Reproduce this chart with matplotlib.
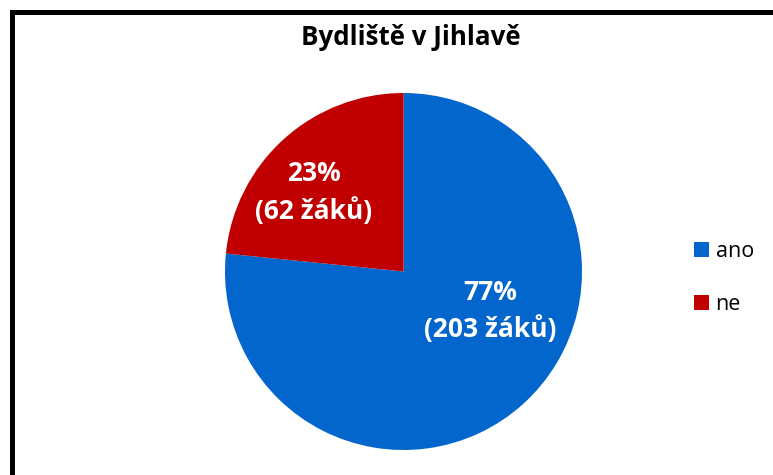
import matplotlib
matplotlib.use("Agg")
import matplotlib.pyplot as plt
from matplotlib.patches import Rectangle, Patch

title = "Bydliště v Jihlavě"
categories = ["ano", "ne"]
counts = [203, 62]
colors = ["#0366CC", "#C00000"]

plt.rcParams['font.family'] = ['Open Sans', 'DejaVu Sans']

W, H = 773, 475
fig = plt.figure(figsize=(W / 100, H / 100), dpi=100)
fig.patch.set_facecolor("white")

# outer border (left and top visible)
fig.patches.append(Rectangle((11.5 / W, -0.2), 1.5, (H - 11.5) / H + 0.2,
                             transform=fig.transFigure, fill=False,
                             edgecolor="black", linewidth=3.6))

cx, cy, r = 403.5, 271.5, 178.5
ax = fig.add_axes([(cx - r) / W, (H - cy - r) / H, 2 * r / W, 2 * r / H])
wedges, _ = ax.pie(counts, colors=colors, startangle=90, counterclock=False,
                   radius=1, wedgeprops=dict(linewidth=0))
ax.set_xlim(-1, 1)
ax.set_ylim(-1, 1)
ax.set_aspect("equal")
ax.axis("off")

total = sum(counts)
label_pos = [(0.487, -0.222), (-0.504, 0.444)]
for c, (x, y) in zip(counts, label_pos):
    pct = round(100 * c / total)
    ax.text(x, y, f"{pct}%\n({c} žáků)", ha="center", va="center",
            color="white", fontsize=19, fontweight="bold", linespacing=1.45)

fig.text(411 / W, 1 - 45 / H, title, ha="center", va="baseline",
         fontsize=18.6, fontweight="bold", color="black")

handles = [Patch(facecolor=col, edgecolor="none") for col in colors]
fig.legend(handles, categories, loc="center left",
           bbox_to_anchor=(694 / W, 1 - 278 / H), frameon=False,
           fontsize=15.5, handlelength=0.7, handleheight=0.7,
           handletextpad=0.3, labelspacing=1.45, borderpad=0, borderaxespad=0)

fig.savefig("out.png", dpi=100)
